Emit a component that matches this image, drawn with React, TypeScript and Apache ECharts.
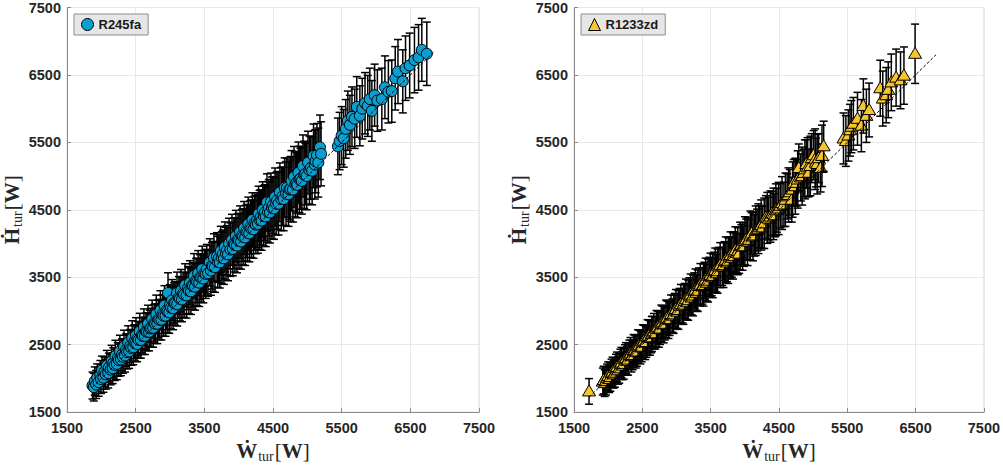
import { useEffect, useRef } from 'react';
import * as echarts from 'echarts';

// [W_tur, H_tur, error half-width]
const r245faPoints: number[][] = [
  [1872, 1894, 200], [1905, 1960, 210], [1940, 2010, 205], [1985, 2050, 215], [2010, 2120, 210],
  [2045, 2095, 220], [2080, 2190, 225], [2110, 2160, 215], [2150, 2260, 230], [2175, 2230, 225],
  [2205, 2330, 235], [2240, 2300, 230], [2270, 2400, 240], [2300, 2350, 235], [2330, 2470, 245],
  [2360, 2420, 240], [2390, 2530, 250], [2420, 2480, 245], [2450, 2600, 255], [2480, 2545, 250],
  [2505, 2640, 260], [2530, 2590, 255], [2560, 2700, 265], [2590, 2640, 260], [2620, 2760, 270],
  [2650, 2700, 265], [2680, 2810, 275], [2708, 2741, 270], [2740, 2880, 280], [2770, 2820, 275],
  [2800, 2950, 285], [2830, 2880, 280], [2860, 3010, 290], [2890, 2950, 285], [2920, 3080, 295],
  [2950, 3010, 290], [2971, 3266, 300], [3000, 3090, 300], [3030, 3160, 305], [3060, 3120, 300],
  [3102, 3266, 310], [3130, 3200, 310], [3160, 3300, 315], [3190, 3260, 312], [3220, 3380, 320],
  [3262, 3339, 320], [3290, 3420, 325], [3320, 3380, 322], [3350, 3520, 330], [3380, 3450, 328],
  [3410, 3560, 335], [3440, 3500, 332], [3470, 3620, 340], [3500, 3560, 338], [3553, 3558, 340],
  [3580, 3720, 350], [3610, 3670, 345], [3640, 3790, 355], [3684, 3806, 355], [3710, 3780, 355],
  [3740, 3890, 365], [3770, 3840, 360], [3800, 3950, 370], [3830, 3900, 365], [3860, 4000, 375],
  [3903, 4055, 378], [3930, 4000, 375], [3960, 4110, 382], [3990, 4060, 380], [4020, 4170, 388],
  [4050, 4120, 385], [4080, 4230, 393], [4110, 4180, 390], [4140, 4290, 398], [4170, 4240, 395],
  [4200, 4350, 403], [4230, 4300, 400], [4267, 4347, 405], [4290, 4440, 410], [4320, 4390, 408],
  [4350, 4500, 415], [4380, 4460, 412], [4412, 4609, 425], [4440, 4530, 420], [4470, 4620, 425],
  [4500, 4570, 422], [4530, 4690, 430], [4560, 4640, 428], [4600, 4760, 435], [4640, 4700, 432],
  [4670, 4830, 440], [4704, 4828, 440], [4740, 4800, 440], [4770, 4930, 448], [4806, 4989, 450],
  [4840, 4900, 448], [4870, 5050, 455], [4900, 4960, 452], [4937, 5150, 460], [4970, 5030, 458],
  [5010, 5200, 465], [5050, 5120, 462], [5090, 5300, 472], [5120, 5220, 468], [5140, 5310, 470],
  [5184, 5427, 478], [5200, 5330, 475],
  [5445, 5441, 420], [5470, 5520, 425], [5500, 5600, 430], [5530, 5560, 428], [5560, 5700, 435],
  [5590, 5821, 440], [5620, 5760, 438], [5650, 5880, 442], [5690, 5850, 440], [5720, 6025, 450],
  [5765, 5894, 445], [5800, 6000, 450], [5840, 6080, 455], [5880, 6040, 452], [5910, 6142, 458],
  [5940, 5967, 450], [5980, 6200, 460], [6020, 6120, 456], [6085, 6142, 458], [6130, 6317, 465],
  [6180, 6250, 462], [6230, 6260, 462], [6280, 6450, 470], [6320, 6550, 475], [6390, 6405, 468],
  [6430, 6600, 478], [6490, 6640, 480], [6560, 6720, 485], [6620, 6760, 486], [6667, 6872, 467],
  [6740, 6814, 470],
];

const r245faLowerBand: number[][] = [
  [1890, 1870, 205], [1925, 1910, 208], [1960, 1945, 210], [1995, 1990, 214], [2030, 2010, 216],
  [2065, 2060, 220], [2100, 2080, 222], [2135, 2130, 226], [2165, 2150, 228], [2195, 2200, 232],
  [2225, 2215, 234], [2255, 2270, 238], [2285, 2280, 240], [2315, 2320, 244], [2345, 2340, 246],
  [2375, 2390, 250], [2405, 2400, 252], [2435, 2450, 256], [2465, 2460, 258], [2495, 2520, 262],
  [2520, 2510, 264], [2545, 2570, 268], [2575, 2570, 270], [2605, 2630, 274], [2635, 2630, 276],
  [2665, 2690, 280], [2695, 2690, 282], [2725, 2750, 286], [2755, 2750, 288], [2785, 2810, 292],
  [2815, 2810, 294], [2845, 2870, 298], [2875, 2870, 300], [2905, 2930, 304], [2935, 2930, 306],
  [2965, 2990, 310], [2990, 2980, 312], [3015, 3050, 316], [3045, 3040, 318], [3075, 3110, 322],
  [3105, 3100, 324], [3145, 3180, 328], [3175, 3170, 330], [3205, 3240, 334], [3240, 3230, 336],
  [3275, 3300, 340], [3305, 3290, 342], [3335, 3370, 346], [3365, 3360, 348], [3395, 3430, 352],
  [3425, 3420, 354], [3455, 3490, 358], [3485, 3480, 360], [3520, 3550, 364], [3535, 3620, 366],
  [3595, 3600, 368], [3625, 3660, 372], [3655, 3650, 374], [3695, 3730, 378], [3725, 3720, 380],
  [3755, 3790, 384], [3785, 3780, 386], [3815, 3850, 390], [3845, 3840, 392], [3880, 3910, 396],
  [3915, 3920, 398], [3945, 3980, 402], [3975, 3970, 404], [4005, 4040, 408], [4035, 4030, 410],
  [4065, 4100, 414], [4095, 4090, 416], [4125, 4160, 420], [4155, 4150, 422], [4185, 4220, 426],
  [4215, 4210, 428], [4250, 4280, 432], [4280, 4290, 434], [4305, 4350, 438], [4335, 4340, 440],
  [4365, 4410, 444], [4395, 4400, 446], [4425, 4470, 450], [4455, 4460, 452], [4485, 4530, 456],
  [4515, 4520, 458], [4545, 4590, 462], [4580, 4590, 464], [4620, 4660, 468], [4655, 4660, 470],
  [4690, 4740, 474], [4725, 4730, 476], [4755, 4810, 480], [4790, 4800, 482], [4825, 4880, 486],
  [4855, 4870, 488], [4885, 4950, 492], [4920, 4930, 494], [4955, 5020, 498], [4990, 5000, 500],
  [5030, 5090, 504], [5070, 5080, 506], [5110, 5170, 510], [5160, 5200, 512],
];

const r1233zdPoints: number[][] = [
  [1720, 1807, 190],
  [1922, 1953, 200], [1950, 1930, 198], [1985, 2010, 202], [2015, 1990, 200], [2050, 2080, 205],
  [2080, 2060, 204], [2115, 2150, 208], [2145, 2120, 206], [2180, 2220, 212], [2210, 2190, 210],
  [2245, 2285, 215], [2275, 2260, 214], [2310, 2350, 218], [2359, 2347, 218], [2390, 2420, 222],
  [2420, 2400, 221], [2455, 2490, 225], [2490, 2470, 224], [2525, 2560, 228], [2560, 2540, 227],
  [2595, 2630, 232], [2630, 2610, 231], [2650, 2682, 235], [2690, 2670, 234], [2725, 2760, 238],
  [2760, 2740, 237], [2795, 2830, 242], [2830, 2810, 241], [2865, 2900, 245], [2900, 2880, 244],
  [2942, 2931, 247], [2975, 3010, 250], [3010, 2990, 249], [3045, 3080, 254], [3087, 3077, 254],
  [3120, 3150, 258], [3155, 3130, 257], [3190, 3230, 262], [3225, 3200, 260], [3260, 3300, 265],
  [3295, 3270, 264], [3330, 3370, 268], [3378, 3369, 268], [3410, 3450, 272], [3445, 3420, 271],
  [3480, 3520, 276], [3515, 3500, 275], [3550, 3590, 280], [3585, 3560, 278], [3620, 3660, 283],
  [3670, 3660, 283], [3705, 3740, 287], [3740, 3720, 286], [3775, 3810, 290], [3810, 3790, 290],
  [3845, 3880, 294], [3880, 3860, 293], [3917, 3850, 292], [3950, 3980, 299], [3985, 3960, 298],
  [4020, 4060, 303], [4063, 4055, 303], [4100, 4150, 307], [4140, 4120, 306], [4180, 4200, 310],
  [4220, 4250, 312], [4260, 4240, 312], [4310, 4390, 320], [4350, 4370, 318], [4400, 4450, 323],
  [4440, 4420, 321], [4471, 4493, 325], [4520, 4560, 328], [4573, 4580, 329], [4620, 4700, 335],
  [4660, 4760, 338], [4688, 4650, 332], [4718, 4901, 345], [4760, 4900, 345], [4791, 5120, 356],
  [4820, 4980, 349], [4864, 5047, 352], [4900, 5180, 359], [4940, 5050, 352], [4980, 5266, 363],
  [5008, 5310, 365], [5040, 5200, 360], [5082, 5266, 363], [5110, 5120, 356], [5155, 5442, 372],
  [5445, 5558, 378], [5480, 5520, 376], [5517, 5602, 380], [5540, 5680, 384], [5560, 5733, 387],
  [5590, 5777, 389], [5650, 5850, 392], [5707, 5748, 387], [5736, 6040, 402], [5780, 5894, 395],
  [5820, 5980, 399], [5983, 6303, 415], [6020, 6150, 408], [6070, 6200, 410], [6100, 6280, 414],
  [6145, 6390, 420], [6215, 6460, 423], [6280, 6420, 421], [6330, 6490, 425], [6493, 6814, 440],
];

const r1233zdExtra: number[][] = [
  [1935, 1975, 205], [1968, 1960, 206], [2000, 2035, 210], [2032, 2020, 211], [2065, 2100, 215],
  [2098, 2085, 216], [2130, 2170, 220], [2162, 2150, 221], [2195, 2235, 225], [2228, 2215, 226],
  [2262, 2300, 230], [2292, 2280, 231], [2328, 2370, 236], [2340, 2330, 235], [2372, 2410, 240],
  [2405, 2395, 241], [2438, 2475, 245], [2472, 2460, 246], [2508, 2545, 250], [2542, 2530, 251],
  [2578, 2615, 256], [2612, 2600, 257], [2640, 2660, 260], [2670, 2700, 263], [2708, 2740, 267],
  [2742, 2730, 268], [2778, 2815, 272], [2812, 2800, 273], [2848, 2885, 277], [2882, 2870, 278],
  [2920, 2955, 282], [2958, 2950, 283], [2992, 3030, 288], [3028, 3015, 288], [3065, 3100, 293],
  [3102, 3095, 294], [3138, 3175, 298], [3172, 3160, 298], [3208, 3245, 303], [3242, 3230, 303],
  [3278, 3315, 308], [3312, 3300, 308], [3350, 3390, 313], [3395, 3385, 313], [3428, 3465, 318],
  [3462, 3450, 318], [3498, 3535, 323], [3532, 3520, 323], [3568, 3605, 328], [3602, 3590, 328],
  [3640, 3680, 333], [3688, 3680, 333], [3722, 3760, 338], [3758, 3745, 338], [3792, 3830, 343],
  [3828, 3815, 343], [3862, 3900, 348], [3898, 3885, 348], [3932, 3965, 352], [3968, 3955, 352],
  [4002, 4040, 357], [4040, 4030, 357], [4082, 4120, 362], [4120, 4105, 362], [4160, 4190, 367],
  [4200, 4220, 369], [4240, 4275, 372], [4285, 4300, 374], [4330, 4380, 378], [4375, 4400, 380],
  [4420, 4440, 382], [4455, 4500, 385], [4495, 4520, 387], [4545, 4600, 392], [4595, 4650, 396],
  [4640, 4720, 402], [4700, 4800, 410], [4740, 4850, 415], [4775, 4950, 425], [4840, 5000, 430],
  [4880, 5100, 438], [4920, 5130, 440], [4960, 5150, 442], [5030, 5250, 450], [5060, 5180, 445],
  [5130, 5300, 455],
];

const r245faDiagonal = [1870, 6850];
const r1233zdDiagonal = [1720, 6800];
const axisMin = 1500;
const axisMax = 7500;
const axisStep = 1000;

const seriesNames = ['R245fa', 'R1233zd'];
const markerColors = ['#0a9fd0', '#f8c62a'];

const labelFont = "'Liberation Sans', Arial, sans-serif";
const serifFont = "'Liberation Serif', 'DejaVu Serif', 'Times New Roman', serif";

function makeRich() {
  return {
    m: { fontFamily: serifFont, fontSize: 21, fontWeight: 'bold', color: '#262626', lineHeight: 22, verticalAlign: 'top' },
    b: { fontFamily: serifFont, fontSize: 21, color: '#262626', lineHeight: 22, verticalAlign: 'top' },
    s: { fontFamily: serifFont, fontSize: 14, color: '#262626', lineHeight: 14, padding: [9, 1, 0, 1], verticalAlign: 'top' },
  };
}

function errorRender(kind: 'none' | 'triangle', color: string) {
  return (params: any, api: any) => {
    const x = api.value(0);
    const y = api.value(1);
    const e = api.value(2);
    const p = api.coord([x, y]);
    const t = api.coord([x, y + e]);
    const b = api.coord([x, y - e]);
    const cw = 4;
    const lineStyle = { stroke: '#000', lineWidth: 1.5 };
    const children: any[] = [
      { type: 'line', shape: { x1: p[0], y1: t[1], x2: p[0], y2: b[1] }, style: lineStyle },
      { type: 'line', shape: { x1: p[0] - cw, y1: t[1], x2: p[0] + cw, y2: t[1] }, style: lineStyle },
      { type: 'line', shape: { x1: p[0] - cw, y1: b[1], x2: p[0] + cw, y2: b[1] }, style: lineStyle },
    ];
    if (kind === 'triangle') {
      const h = 6.5;
      children.push({
        type: 'polygon',
        shape: { points: [[p[0], p[1] - h], [p[0] + h, p[1] + h * 0.7], [p[0] - h, p[1] + h * 0.7]] },
        style: { fill: color, stroke: '#000', lineWidth: 1 },
      });
    }
    return { type: 'group', children };
  };
}

const byX = (a: number[], b: number[]) => a[0] - b[0];

export default function App() {
  const ref = useRef<HTMLDivElement>(null);
  useEffect(() => {
    if (!ref.current) return;
    const chart = echarts.init(ref.current, undefined, { renderer: 'svg' });
    const gridLefts = [67, 574];
    const names = [
      '{m|Ẇ}{s|tur}{b|[}{m|W}{b|]}',
      '{m|Ḣ}{s|tur}{b|[}{m|W}{b|]}',
    ];
    const axisCommon = {
      type: 'value',
      min: axisMin,
      max: axisMax,
      interval: axisStep,
      nameLocation: 'middle',
      nameTextStyle: { rich: makeRich() },
      axisLine: { show: true, lineStyle: { color: '#8a8a8a', width: 1 } },
      axisTick: { show: true, inside: true, length: 4, lineStyle: { color: '#8a8a8a' } },
      splitLine: { show: true, lineStyle: { color: '#e8e8e8', width: 1 } },
    };
    const xAxes = gridLefts.map((_, i) => ({
      ...axisCommon,
      gridIndex: i,
      name: names[0],
      nameGap: 22,
      axisLabel: { fontFamily: labelFont, fontWeight: 'bold', fontSize: 14.5, color: '#262626', margin: 8, formatter: (v: number) => String(v) },
    }));
    const yAxes = gridLefts.map((_, i) => ({
      ...axisCommon,
      gridIndex: i,
      name: names[1],
      nameGap: 37,
      axisLabel: { fontFamily: labelFont, fontWeight: 'bold', fontSize: 14.5, color: '#262626', margin: 6, formatter: (v: number) => String(v) },
    }));
    const legendBase = {
      orient: 'horizontal',
      top: 14,
      padding: [4, 7, 4, 7],
      itemWidth: 12,
      itemHeight: 12,
      backgroundColor: '#e6e6e6',
      borderColor: '#8c8c8c',
      borderWidth: 1,
      borderRadius: 0,
      textStyle: { fontFamily: labelFont, fontWeight: 'bold', fontSize: 13, color: '#1a1a1a' },
      selectedMode: false,
    };
    const left = [...r245faPoints, ...r245faLowerBand].sort(byX);
    chart.setOption({
      animation: false,
      backgroundColor: '#ffffff',
      grid: gridLefts.map((l) => ({
        left: l,
        top: 7,
        width: 412,
        height: 411,
        show: true,
        borderColor: '#e0e0e0',
        borderWidth: 1,
        backgroundColor: 'transparent',
      })),
      xAxis: xAxes,
      yAxis: yAxes,
      legend: [
        {
          ...legendBase,
          left: 74,
          data: [{ name: seriesNames[0], icon: 'circle', itemStyle: { color: markerColors[0], borderColor: '#000', borderWidth: 1 } }],
        },
        {
          ...legendBase,
          left: 581,
          data: [{ name: seriesNames[1], icon: 'triangle', itemStyle: { color: markerColors[1], borderColor: '#000', borderWidth: 1 } }],
        },
      ],
      series: [
        {
          name: 'R245fa error',
          type: 'custom',
          xAxisIndex: 0,
          yAxisIndex: 0,
          z: 2,
          silent: true,
          encode: { x: 0, y: 1 },
          renderItem: errorRender('none', markerColors[0]),
          data: left,
        },
        {
          name: seriesNames[0],
          type: 'scatter',
          xAxisIndex: 0,
          yAxisIndex: 0,
          z: 3,
          symbol: 'circle',
          symbolSize: 11,
          itemStyle: { color: markerColors[0], borderColor: '#000', borderWidth: 1, opacity: 1 },
          data: left.map((d) => [d[0], d[1]]),
        },
        {
          name: seriesNames[1],
          type: 'custom',
          xAxisIndex: 1,
          yAxisIndex: 1,
          z: 2,
          itemStyle: { color: markerColors[1], borderColor: '#000', borderWidth: 1 },
          encode: { x: 0, y: 1 },
          renderItem: errorRender('triangle', markerColors[1]),
          data: [...r1233zdPoints, ...r1233zdExtra].sort(byX),
        },
        {
          name: 'fit1',
          type: 'line',
          xAxisIndex: 0,
          yAxisIndex: 0,
          z: 5,
          symbol: 'none',
          silent: true,
          lineStyle: { color: '#000', width: 1, type: [3, 2] },
          data: r245faDiagonal.map((v) => [v, v]),
        },
        {
          name: 'fit2',
          type: 'line',
          xAxisIndex: 1,
          yAxisIndex: 1,
          z: 5,
          symbol: 'none',
          silent: true,
          lineStyle: { color: '#000', width: 1, type: [3, 2] },
          data: r1233zdDiagonal.map((v) => [v, v]),
        },
      ],
    });
    return () => chart.dispose();
  }, []);
  return <div ref={ref} style={{ width: 1003, height: 468, position: 'absolute', left: 0, top: 0 }} />;
}
